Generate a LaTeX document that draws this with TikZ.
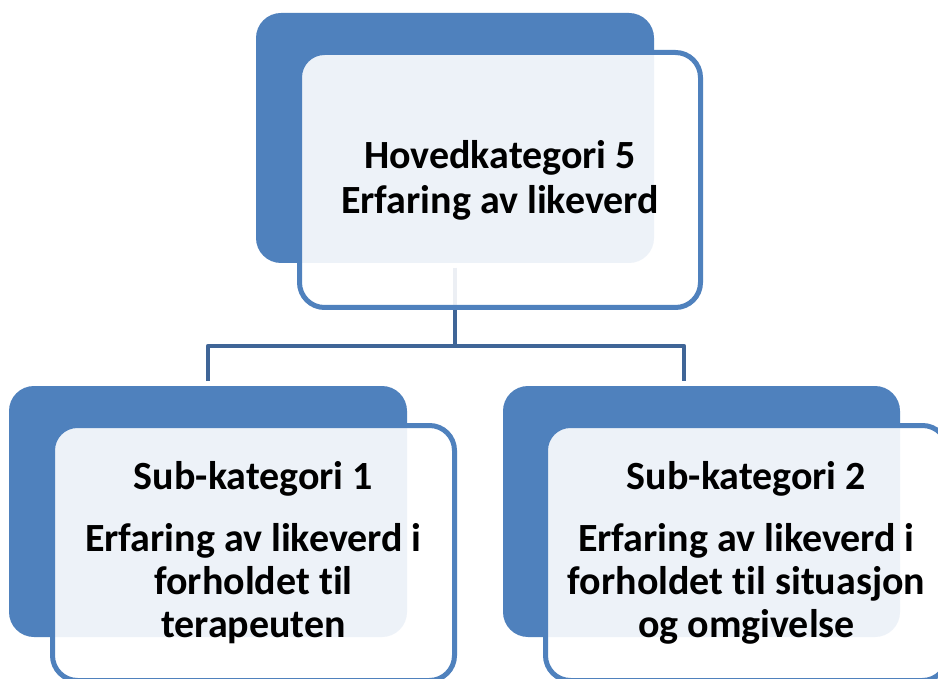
\documentclass[tikz,border=0pt]{standalone}
\usepackage{fontspec}
\setmainfont[Ligatures=NoCommon]{Carlito}
\definecolor{darkbox}{RGB}{79,129,189}
\definecolor{conn}{RGB}{63,101,151}
\tikzset{
  backbox/.style={draw=none, fill=darkbox, rounded corners=25pt, inner sep=0pt},
  frontbox/.style={draw=darkbox, line width=5pt, fill=white, fill opacity=0.9, text opacity=1,
    rounded corners=25pt, inner sep=0pt, align=center},
  toptext/.style={font=\bfseries\fontsize{40}{45}\selectfont},
  subtext/.style={font=\bfseries\fontsize{40}{43}\selectfont},
  connline/.style={draw=conn, line width=4.5pt}
}
\begin{document}
\begin{tikzpicture}[x=1pt,y=-1pt]
\clip (0,0) rectangle (938,679);
\fill[white] (0,0) rectangle (938,679);
% connectors (drawn first, beneath boxes)
\coordinate (cstart) at (455,268);
\coordinate (cmid) at (455,346);
\coordinate (lmid) at (208,346);
\coordinate (rmid) at (684,346);
\coordinate (lend) at (208,381);
\coordinate (rend) at (684,381);
\draw[connline] (cstart) -- (cmid);
\draw[connline, line join=round] (lend) -- (lmid) -- (rmid) -- (rend);
% top
\node[backbox, minimum width=398pt, minimum height=250pt] (topback) at (455,138) {};
\node[frontbox, toptext, minimum width=401pt, minimum height=255pt] (topfront) at (500,180)
  {Hovedkategori 5\\ Erfaring av likeverd};
% bottom left
\node[backbox, minimum width=398pt, minimum height=251pt] (lback) at (208,511.5) {};
\node[frontbox, subtext, minimum width=402pt, minimum height=255pt] (lfront) at (253.5,553)
  {Sub-kategori 1\\[19pt] Erfaring av likeverd i\\ forholdet til\\ terapeuten};
% bottom right
\node[backbox, minimum width=397pt, minimum height=251pt] (rback) at (701.5,511.5) {};
\node[frontbox, subtext, minimum width=402pt, minimum height=255pt] (rfront) at (746.5,553)
  {Sub-kategori 2\\[19pt] Erfaring av likeverd i\\ forholdet til situasjon\\ og omgivelse};
\end{tikzpicture}
\end{document}
